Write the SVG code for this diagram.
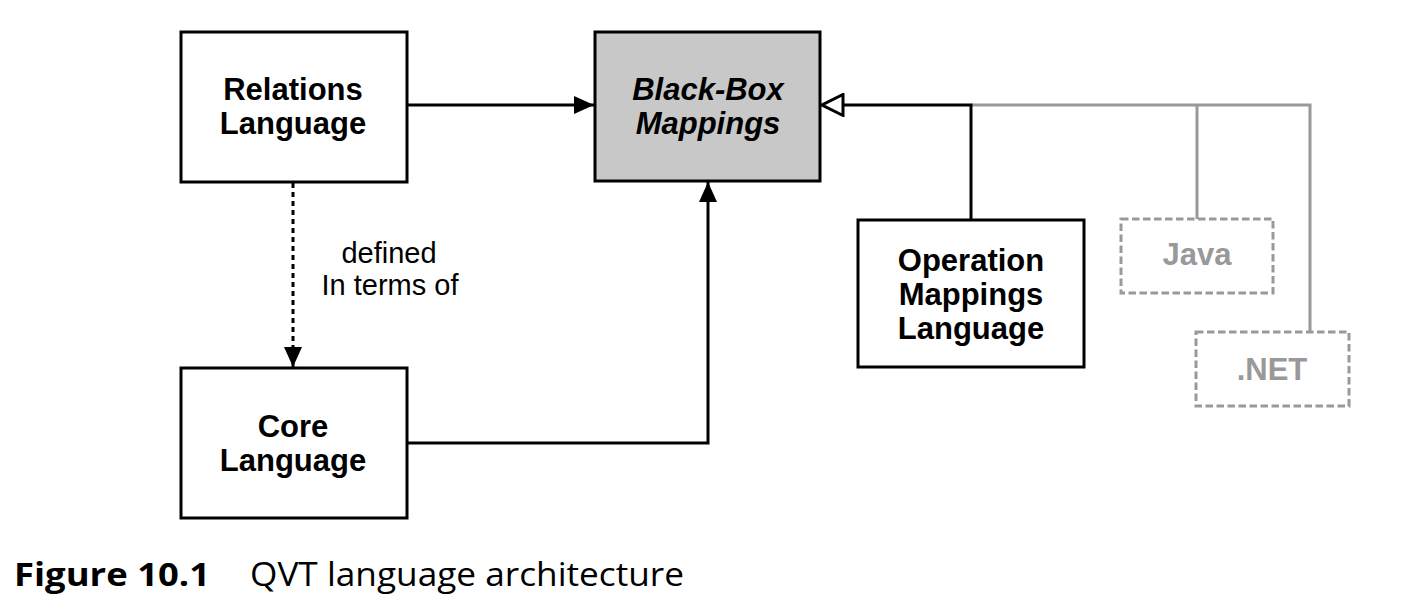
<svg xmlns="http://www.w3.org/2000/svg" width="1412" height="616" viewBox="0 0 1412 616">
<defs>
<style>
.box{fill:#fff;stroke:#000;stroke-width:3}
.dash{fill:#fff;stroke:#999;stroke-width:3;stroke-dasharray:7.5,3.5}
.lbl{font-family:"Liberation Sans",Arial,sans-serif;font-weight:bold;font-size:31px;text-anchor:middle;fill:#000}
.gl{fill:#999}
.reg{font-weight:normal;font-size:29px}
.ln{fill:none;stroke:#000;stroke-width:3}
.gln{fill:none;stroke:#999;stroke-width:3}
.cap{font-family:"Open Sans","Noto Sans",sans-serif;font-size:32px;fill:#000}
</style>
<marker id="af" viewBox="0 0 20 20" refX="20" refY="10" markerWidth="20" markerHeight="20" markerUnits="userSpaceOnUse" orient="auto">
<path d="M0,1 L20,10 L0,19 Z" fill="#000"/>
</marker>
<marker id="ho" viewBox="0 0 24 24" refX="23" refY="12" markerWidth="24" markerHeight="24" markerUnits="userSpaceOnUse" orient="auto">
<path d="M2,1.5 L23,12 L2,22.5 Z" fill="#fff" stroke="#000" stroke-width="3"/>
</marker>
</defs>
<rect width="1412" height="616" fill="#fff"/>
<g id="connectors">
<path class="ln" d="M407,105 H594" marker-end="url(#af)"/>
<path class="ln" d="M407,443 H708 V182" marker-end="url(#af)"/>
<path class="ln" d="M293,183 V367" stroke-dasharray="5,4" marker-end="url(#af)"/>
<path class="gln" d="M971,105 H1310 V332 M1197,105 V219"/>
<path class="ln" d="M971,220 V105 H822" marker-end="url(#ho)"/>
</g>
<g id="relations">
<rect class="box" x="181" y="32" width="226" height="150"/>
<text class="lbl" x="293" y="100">Relations</text>
<text class="lbl" x="293" y="134">Language</text>
</g>
<g id="blackbox">
<rect class="box" x="595" y="32" width="225" height="149" style="fill:#c8c8c8"/>
<text class="lbl" x="708" y="100" font-style="italic">Black-Box</text>
<text class="lbl" x="708" y="134" font-style="italic">Mappings</text>
</g>
<g id="core">
<rect class="box" x="181" y="368" width="226" height="150"/>
<text class="lbl" x="293" y="437">Core</text>
<text class="lbl" x="293" y="471">Language</text>
</g>
<g id="operation">
<rect class="box" x="858" y="220" width="226" height="147"/>
<text class="lbl" x="971" y="271">Operation</text>
<text class="lbl" x="971" y="305">Mappings</text>
<text class="lbl" x="971" y="339">Language</text>
</g>
<g id="java">
<rect class="dash" x="1121" y="219" width="152" height="74"/>
<text class="lbl gl" x="1197" y="265">Java</text>
</g>
<g id="dotnet">
<rect class="dash" x="1196" y="332" width="153" height="74"/>
<text class="lbl gl" x="1272" y="380">.NET</text>
</g>
<g id="label">
<text class="lbl reg" x="389" y="263">defined</text>
<text class="lbl reg" x="390" y="295">In terms of</text>
</g>
<text class="cap" x="14" y="586" font-weight="bold" textLength="196" lengthAdjust="spacingAndGlyphs">Figure 10.1</text>
<text class="cap" x="250" y="586" textLength="434" lengthAdjust="spacingAndGlyphs">QVT language architecture</text>
</svg>
